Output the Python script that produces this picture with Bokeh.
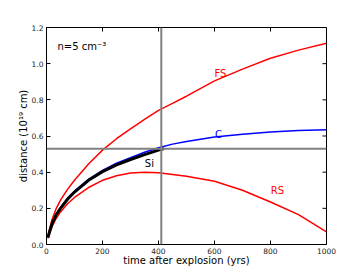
from bokeh.plotting import figure
from bokeh.models import Span, Label, FixedTicker, Range1d
from bokeh.embed import file_html
from bokeh.resources import INLINE

# ---- data ----
t_fs = [5, 10, 20, 35, 50, 75, 100, 150, 200, 250, 300, 350, 400, 450, 500, 600, 700, 800, 900, 1000]
r_fs = [0.04, 0.08, 0.14, 0.2, 0.245, 0.305, 0.355, 0.445, 0.522, 0.585, 0.64, 0.692, 0.742, 0.78, 0.82, 0.905, 0.97, 1.03, 1.075, 1.113]

t_rs = [5, 10, 20, 35, 50, 75, 100, 150, 200, 250, 300, 350, 400, 450, 500, 600, 700, 800, 900, 1000]
r_rs = [0.035, 0.06, 0.1, 0.145, 0.18, 0.225, 0.26, 0.315, 0.355, 0.38, 0.395, 0.4, 0.397, 0.387, 0.377, 0.35, 0.3, 0.235, 0.165, 0.07]

t_c = [5, 10, 20, 35, 50, 75, 100, 150, 200, 250, 300, 350, 400, 450, 500, 600, 700, 800, 900, 1000]
r_c = [0.038, 0.066, 0.117, 0.168, 0.204, 0.255, 0.295, 0.36, 0.41, 0.45, 0.48, 0.51, 0.535, 0.555, 0.57, 0.595, 0.61, 0.622, 0.63, 0.634]

t_si = [5, 10, 20, 35, 50, 75, 100, 150, 200, 250, 300, 350, 400, 420]
r_si = [0.038, 0.065, 0.115, 0.165, 0.2, 0.25, 0.29, 0.355, 0.403, 0.44, 0.47, 0.497, 0.522, 0.53]

x_ticks = [0, 200, 400, 600, 800, 1000]
y_ticks = [0.0, 0.2, 0.4, 0.6, 0.8, 1.0, 1.2]

t_marker = 410
r_marker = 0.53

labels = [("FS", 600, 0.946, "#ff0000"), ("C", 602, 0.607, "#0000ff"),
          ("Si", 351, 0.447, "#000000"), ("RS", 801, 0.296, "#ff0000")]

FONT = "DejaVu Sans"

p = figure(width=354, height=272, output_backend="svg", toolbar_location=None,
           x_range=Range1d(0, 1000), y_range=Range1d(0, 1.2),
           min_border_left=46, min_border_right=28, min_border_top=27, min_border_bottom=28)
p.xgrid.visible = False
p.ygrid.visible = False
p.outline_line_color = "black"
p.background_fill_color = "white"
p.border_fill_color = "white"

for ax in (p.xaxis[0], p.yaxis[0]):
    ax.major_tick_in = 4
    ax.major_tick_out = 0
    ax.minor_tick_line_color = None
    ax.axis_line_color = "black"
    ax.major_tick_line_color = "black"
    ax.major_label_text_font = FONT
    ax.major_label_text_font_size = "7.5px"
    ax.major_label_text_color = "#222222"
    ax.axis_label_text_font = FONT
    ax.axis_label_text_font_size = "10px"
    ax.axis_label_text_font_style = "normal"
    ax.axis_label_text_color = "black"

p.xaxis[0].ticker = FixedTicker(ticks=x_ticks)
p.yaxis[0].ticker = FixedTicker(ticks=y_ticks)
p.yaxis[0].major_label_overrides = {v: f"{v:.1f}" for v in y_ticks}
p.xaxis[0].major_label_overrides = {v: str(v) for v in x_ticks}

p.yaxis[0].axis_label = "distance (10\u00b9\u2079 cm)"
p.yaxis[0].major_label_standoff = 3
p.yaxis[0].axis_label_standoff = 0

p.xaxis[0].axis_label = "time after explosion (yrs)"
p.xaxis[0].major_label_standoff = 3
p.xaxis[0].axis_label_standoff = -2

# inward ticks on top and right edges
p.ray(x=x_ticks, y=[y_ticks[-1]] * len(x_ticks), length=4, length_units="screen",
      angle=-90, angle_units="deg", line_color="black", line_width=1)
p.ray(x=[x_ticks[-1]] * len(y_ticks), y=y_ticks, length=4, length_units="screen",
      angle=180, angle_units="deg", line_color="black", line_width=1)

# reference lines
p.add_layout(Span(location=t_marker, dimension="height", line_color="#808080", line_width=2))
p.add_layout(Span(location=r_marker, dimension="width", line_color="#808080", line_width=2))

# curves
p.line(t_fs, r_fs, line_color="#ff0000", line_width=1.5)
p.line(t_rs, r_rs, line_color="#ff0000", line_width=1.5)
p.line(t_c, r_c, line_color="#0000ff", line_width=1.5)
p.line(t_si, r_si, line_color="#000000", line_width=3)

for txt, x, y, col in labels:
    p.add_layout(Label(x=x, y=y, text=txt, text_color=col, text_font=FONT,
                       text_font_size="10px", text_baseline="alphabetic"))

p.add_layout(Label(x=39, y=1.097, text="n=5 cm\u207b\u00b3", text_color="black",
                   text_font=FONT, text_font_size="10px", text_baseline="alphabetic"))

open("out.html", "w").write(file_html(p, INLINE))
